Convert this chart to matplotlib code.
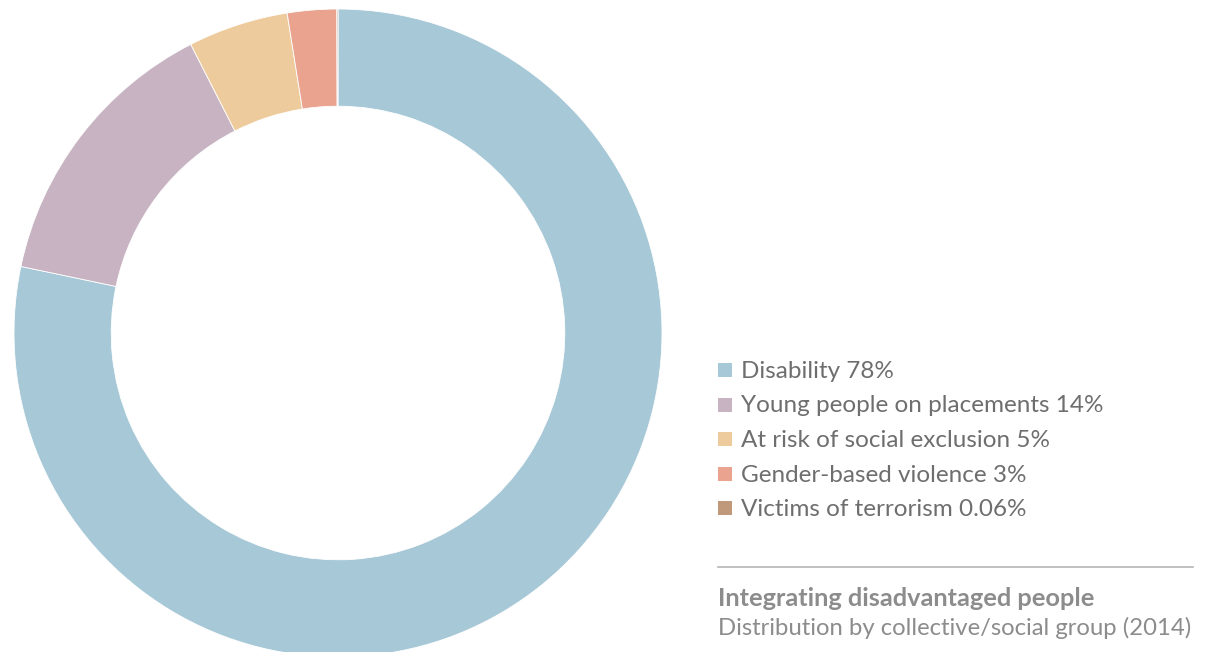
import matplotlib.pyplot as plt

labels = ["Disability", "Young people on placements", "At risk of social exclusion",
          "Gender-based violence", "Victims of terrorism"]
shares = [78.3, 14.2, 5.0, 2.45, 0.06]
share_labels = ["78%", "14%", "5%", "3%", "0.06%"]
colors = ["#a7c8d6", "#c7b3c1", "#eecb9c", "#e9a38f", "#c0987a"]

title = "Integrating disadvantaged people"
subtitle = "Distribution by collective/social group (2014)"

W, H = 1209, 652
fig = plt.figure(figsize=(W / 100, H / 100), dpi=100)
ax = fig.add_axes([0, 0, 1, 1])

ax.pie(shares, colors=colors, startangle=90, counterclock=False,
       center=(338, H - 333), radius=324,
       wedgeprops=dict(width=324 * 0.30, edgecolor="white", linewidth=0.6),
       frame=True)
ax.set_xlim(0, W)
ax.set_ylim(0, H)
ax.set_aspect("auto")
ax.axis("off")

font = "Lato"
text_color = "#6e6e6e"
y0, dy = H - 370, 34.5
for i, (lab, sl, c) in enumerate(zip(labels, share_labels, colors)):
    y = y0 - i * dy
    ax.scatter([725], [y], marker="s", s=100, color=c, linewidths=0)
    ax.text(741, y - 1.5, f"{lab} {sl}", fontsize=17.5, family=font, color=text_color,
            va="center", ha="left")

ax.plot([718, 1193], [H - 567, H - 567], color="#b5b5b5", linewidth=1.2)
ax.text(718, H - 598, title, fontsize=18.3, family=font, weight="bold",
        color="#8c8c8c", va="center", ha="left")
ax.text(718, H - 628, subtitle, fontsize=17.2, family=font, color="#8c8c8c",
        va="center", ha="left")

fig.savefig("out.png", dpi=100, facecolor="white")
